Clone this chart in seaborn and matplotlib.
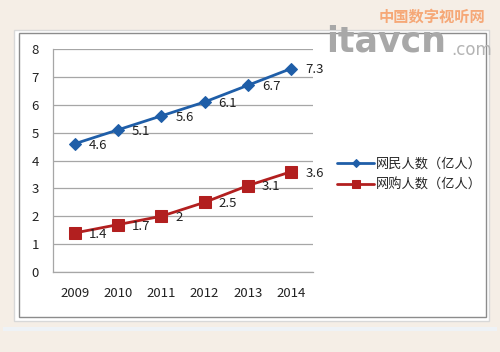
import matplotlib
matplotlib.use("Agg")
import matplotlib.pyplot as plt
from matplotlib.patches import Rectangle
import pandas as pd
import seaborn as sns

years = ["2009", "2010", "2011", "2012", "2013", "2014"]
netizens = [4.6, 5.1, 5.6, 6.1, 6.7, 7.3]
shoppers = [1.4, 1.7, 2.0, 2.5, 3.1, 3.6]
shopper_labels = ["1.4", "1.7", "2", "2.5", "3.1", "3.6"]
series_names = ["网民人数（亿人）", "网购人数（亿人）"]
y_ticks = [0, 1, 2, 3, 4, 5, 6, 7, 8]

sns.set_theme(style="white")
plt.rcParams["font.family"] = ["Noto Sans CJK SC", "DejaVu Sans"]

df = pd.DataFrame({
    "year": list(range(len(years))) * 2,
    "value": netizens + shoppers,
    "series": [series_names[0]] * len(years) + [series_names[1]] * len(years),
})

fig = plt.figure(figsize=(5, 3.52), dpi=100)
fig.patch.set_facecolor("#f5eee6")

# chart frame
fig.patches.append(Rectangle((14 / 500, 1 - 321 / 352), 475 / 500, 291 / 352,
                             transform=fig.transFigure, facecolor="white",
                             edgecolor="#d8d8d8", lw=1.0, zorder=-2))
fig.patches.append(Rectangle((19 / 500, 1 - 317 / 352), 467 / 500, 284 / 352,
                             transform=fig.transFigure, facecolor="white",
                             edgecolor="#8c8c8c", lw=1.0, zorder=-2))
fig.patches.append(Rectangle((3 / 500, 1 - 331 / 352), 494 / 500, 4 / 352,
                             transform=fig.transFigure, facecolor="#eef2f6",
                             edgecolor="none", zorder=-2))

ax = fig.add_axes([53 / 500, 1 - 272 / 352, 260 / 500, 223 / 352])
ax.set_zorder(1)
ax.set_facecolor("white")

blue = "#1f5ea8"
red = "#b21f1f"
sns.lineplot(data=df[df.series == series_names[0]], x="year", y="value",
             color=blue, lw=2, marker="D", markersize=6, markeredgecolor=blue,
             label=series_names[0], ax=ax, zorder=3)
sns.lineplot(data=df[df.series == series_names[1]], x="year", y="value",
             color=red, lw=2, marker="s", markersize=8, markeredgecolor=red,
             label=series_names[1], ax=ax, zorder=3)

for i, v in enumerate(netizens):
    ax.annotate(f"{v}", (i, v), xytext=(10, -1), textcoords="offset points",
                ha="left", va="center", fontsize=9.5, color="#222222")
for i, v in enumerate(shoppers):
    ax.annotate(shopper_labels[i], (i, v), xytext=(10, -1), textcoords="offset points",
                ha="left", va="center", fontsize=9.5, color="#222222")

ax.set_xlim(-0.5, len(years) - 0.5)
ax.set_ylim(0, 8)
ax.set_xticks(range(len(years)))
ax.set_xticklabels(years, fontsize=9.5, color="#222222")
ax.set_yticks(y_ticks)
ax.set_yticklabels([str(t) for t in y_ticks], fontsize=9.5, color="#222222")
ax.tick_params(axis="x", length=0, pad=11)
ax.tick_params(axis="y", length=0, pad=10)
ax.set_xlabel("")
ax.set_ylabel("")
ax.grid(axis="y", color="#a6a6a6", lw=0.9)
ax.set_axisbelow(True)
for s in ["top", "right"]:
    ax.spines[s].set_visible(False)
for s in ["left", "bottom"]:
    ax.spines[s].set_color("#a6a6a6")
    ax.spines[s].set_linewidth(0.9)

ax.legend(loc="center left", bbox_to_anchor=(332 / 500, 1 - 175 / 352),
          bbox_transform=fig.transFigure, frameon=False, fontsize=9.5,
          handlelength=2.8, handletextpad=0.1, labelspacing=0.6, borderaxespad=0,
          markerscale=0.7)

# watermark
fig.text(485 / 500, 1 - 17 / 352, "中国数字视听网", ha="right", va="center",
         fontsize=11, color="#f6a877", fontweight="bold", style="italic", zorder=5)
fig.text(326 / 500, 1 - 41 / 352, "itavcn", ha="left", va="center",
         fontsize=25, color="#a8a8a8", fontweight="bold", family="DejaVu Sans", zorder=5)
fig.text(451 / 500, 1 - 50 / 352, ".com", ha="left", va="center",
         fontsize=12, color="#b4b4b4", family="DejaVu Sans", zorder=5)

fig.savefig("out.png", dpi=100, facecolor=fig.get_facecolor())
